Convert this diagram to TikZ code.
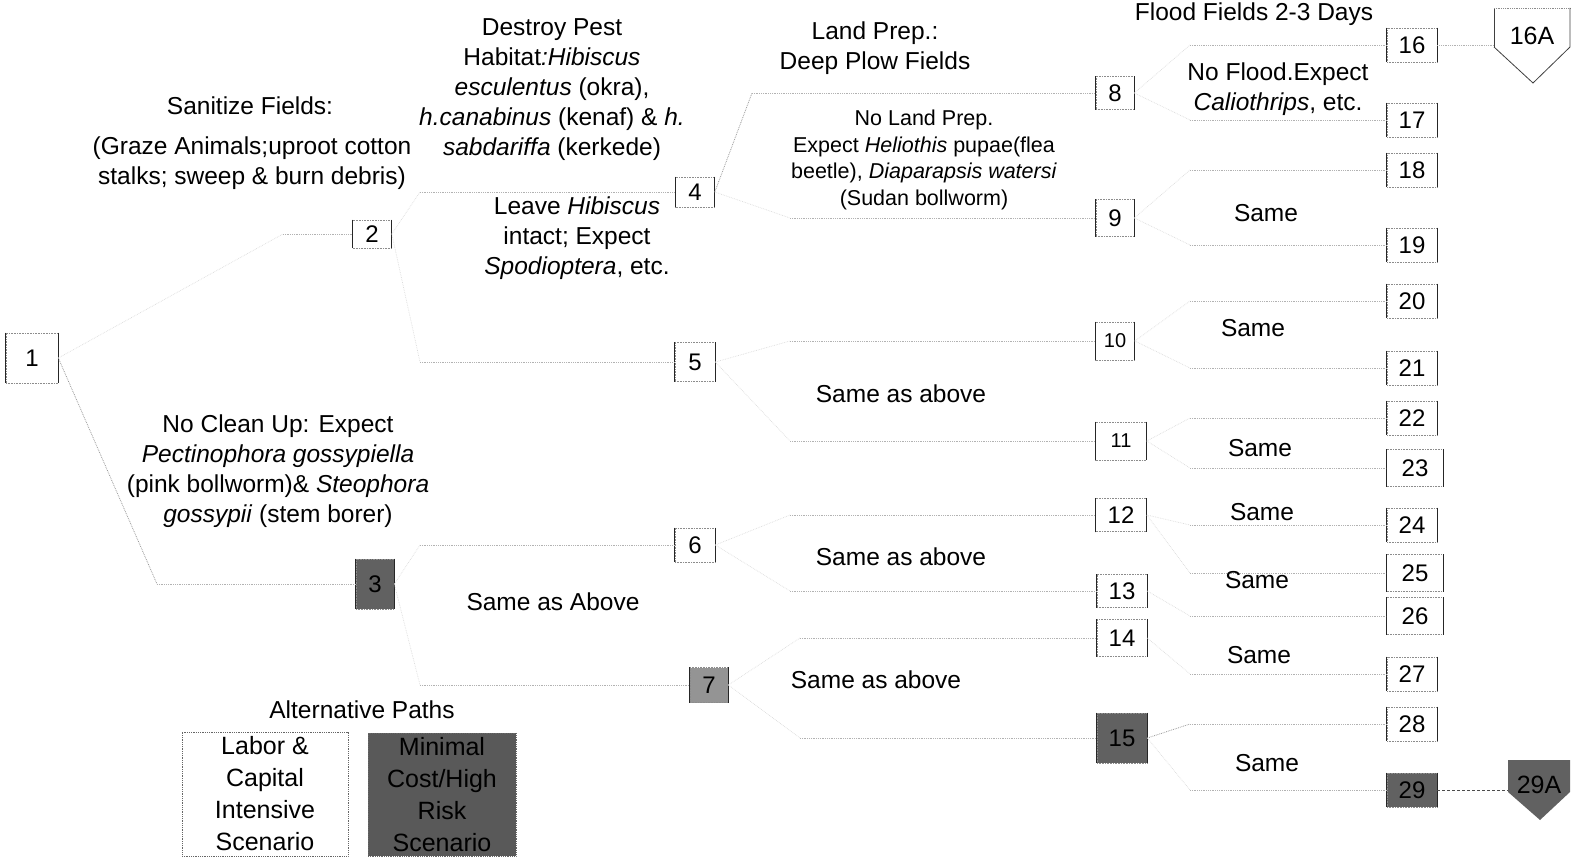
\documentclass[tikz,border=0pt]{standalone}
\usepackage{fontspec}
\setmainfont{Liberation Sans}
\usetikzlibrary{calc}
\begin{document}
\begin{tikzpicture}[x=1pt,y=-1pt,
  numbox/.style={draw=black!45, densely dotted, line width=0.6pt, inner sep=0pt,
    font=\fontsize{24}{28}\selectfont,
    append after command={(\tikzlastnode.north west) edge[draw=black!85,solid,line width=0.8pt] (\tikzlastnode.south west)
      (\tikzlastnode.north east) edge[draw=black!85,solid,line width=0.8pt] (\tikzlastnode.south east)}},
  darkbox/.style={numbox, fill=black!62},
  sz/.style 2 args={minimum width=#1, minimum height=#2},
  smallnum/.style={font=\fontsize{20}{24}\selectfont},
  lbl/.style={align=center, inner sep=0pt, font=\fontsize{24.5}{30}\selectfont},
  lblsmall/.style={align=center, inner sep=0pt, font=\fontsize{21.5}{26.7}\selectfont},
  conn/.style={draw=black!30, densely dotted, line width=0.8pt},
  diag/.style={draw=black!14, densely dotted, line width=0.7pt},
  legbox/.style={draw=black!60, densely dotted, line width=0.8pt, align=center, inner sep=0pt,
    font=\fontsize{25}{32}\selectfont}
]
\useasboundingbox (0,0) rectangle (1585,866);

% ---------- decision nodes ----------
\node[numbox, sz={52}{50}] (n1) at (32,358) {1};
\node[numbox, sz={39}{28}] (n2) at (372,234) {2};
\node[darkbox, sz={38}{50}] (n3) at (375,584) {3};
\node[numbox, sz={39}{30}] (n4) at (695,192) {4};
\node[numbox, sz={40}{39}] (n5) at (695,362) {5};
\node[numbox, sz={40}{34}] (n6) at (695,545) {6};
\node[numbox, fill=black!42, sz={38}{35}] (n7) at (709,685) {7};
\node[numbox, sz={38}{33}] (n8) at (1115,93) {8};
\node[numbox, sz={38}{37}] (n9) at (1115,218) {9};
\node[numbox, smallnum, sz={39}{38}] (n10) at (1115,341) {10};
\node[numbox, smallnum, sz={51}{38}] (n11) at (1121,441) {11};
\node[numbox, sz={51}{33}] (n12) at (1121,515) {12};
\node[numbox, sz={50}{33}] (n13) at (1122,591) {13};
\node[numbox, sz={50}{37}] (n14) at (1122,638) {14};
\node[darkbox, sz={50}{50}] (n15) at (1122,738) {15};
\node[numbox, sz={50}{34}] (n16) at (1412,45) {16};
\node[numbox, sz={50}{34}] (n17) at (1412,120) {17};
\node[numbox, sz={50}{34}] (n18) at (1412,170) {18};
\node[numbox, sz={50}{34}] (n19) at (1412,245) {19};
\node[numbox, sz={50}{34}] (n20) at (1412,301) {20};
\node[numbox, sz={50}{34}] (n21) at (1412,368) {21};
\node[numbox, sz={50}{34}] (n22) at (1412,418) {22};
\node[numbox, sz={57}{37}] (n23) at (1415,468) {23};
\node[numbox, sz={50}{34}] (n24) at (1412,525) {24};
\node[numbox, sz={57}{37}] (n25) at (1415,573) {25};
\node[numbox, sz={57}{37}] (n26) at (1415,616) {26};
\node[numbox, sz={50}{34}] (n27) at (1412,674) {27};
\node[numbox, sz={50}{34}] (n28) at (1412,724) {28};
\node[darkbox, sz={50}{34}] (n29) at (1412,790) {29};

% ---------- end (pentagon) nodes ----------
\draw[black!75, line width=0.8pt] (1494,47) -- (1494,8);
\draw[black!45, densely dotted, line width=0.8pt] (1494,8) -- (1570,8);
\draw[black!75, line width=0.8pt] (1570,8) -- (1570,47) -- (1533,83) -- (1494,47);
\node[inner sep=0pt, minimum width=76, minimum height=39, text height=35pt, text depth=0pt,
      font=\fontsize{25}{28}\selectfont] (n16A) at (1532,27.5) {16A};
\fill[black!62] (1508,760) -- (1570,760) -- (1570,792) -- (1540,820) -- (1508,792) -- cycle;
\node[inner sep=0pt, minimum width=62, minimum height=32, text height=34pt, text depth=0pt,
      font=\fontsize{25}{28}\selectfont] (n29A) at (1539,776) {29A};

% ---------- fork coordinates ----------
\coordinate (f2) at (283,234);
\coordinate (f3) at (157,584);
\coordinate (f4) at (420,192);
\coordinate (f5) at (420,362);
\coordinate (f6) at (420,545);
\coordinate (f7) at (420,685);
\coordinate (f8) at (752,93);
\coordinate (f9) at (790,218);
\coordinate (f10) at (790,341);
\coordinate (f11) at (790,441);
\coordinate (f12) at (790,515);
\coordinate (f13) at (790,591);
\coordinate (f14) at (800,638);
\coordinate (f15) at (800,738);
\coordinate (f16) at (1190,45);
\coordinate (f17) at (1190,120);
\coordinate (f18) at (1190,170);
\coordinate (f19) at (1190,245);
\coordinate (f20) at (1190,301);
\coordinate (f21) at (1190,368);
\coordinate (f22) at (1190,418);
\coordinate (f23) at (1190,468);
\coordinate (f24) at (1190,525);
\coordinate (f25) at (1190,573);
\coordinate (f26) at (1190,616);
\coordinate (f27) at (1190,674);
\coordinate (f28) at (1190,724);
\coordinate (f29) at (1190,790);

% ---------- connectors ----------
\foreach \p/\c in {1/2,2/4,2/5,3/6,3/7,4/9,5/10,5/11,6/12,6/13,7/14,7/15,
                   8/16,8/17,9/18,9/19,10/20,10/21,11/22,11/23,12/24,12/25,13/26,14/27,15/29}{
  \draw[diag] (n\p.east) -- (f\c);
  \draw[conn] (f\c) -- (n\c.west);
}
\foreach \p/\c in {1/3,4/8,15/28}{
  \draw[conn, draw=black!40] (n\p.east) -- (f\c);
  \draw[conn] (f\c) -- (n\c.west);
}
\draw[conn] (n16.east) -- (n16A.west |- n16.east);
\draw[black!70, densely dashed, line width=0.8pt] (n29.east) -- (n29A.west |- n29.east);

% ---------- branch labels ----------
\node[lbl] (t1) at (250,106) {Sanitize Fields:};
\node[lbl] (t2) at (252,163) {(Graze Animals;uproot cotton\\stalks; sweep \& burn debris)};
\node[lbl] (t3) at (552,90) {Destroy Pest\\Habitat\textit{:Hibiscus}\\\textit{esculentus} (okra),\\\textit{h.canabinus} (kenaf) \& \textit{h.}\\\textit{sabdariffa} (kerkede)};
\node[lbl] (t4) at (577,238) {Leave \textit{Hibiscus}\\intact; Expect\\\textit{Spodioptera}, etc.};
\node[lbl] (t5) at (875,48) {Land Prep.:\\Deep Plow Fields};
\node[lblsmall] (t6) at (924,160) {No Land Prep.\\Expect \textit{Heliothis} pupae(flea\\beetle), \textit{Diaparapsis watersi}\\(Sudan bollworm)};
\node[lbl] (t7) at (278,471) {No Clean Up: Expect\\\textit{Pectinophora gossypiella}\\(pink bollworm)\& \textit{Steophora}\\\textit{gossypii} (stem borer)};
\node[lbl] (t8) at (553,602) {Same as Above};
\node[lbl] (t9) at (901,394) {Same as above};
\node[lbl] (t10) at (901,557) {Same as above};
\node[lbl] (t11) at (876,680) {Same as above};
\node[lbl, anchor=base] (t12) at (1254,21) {Flood Fields 2-3 Days};
\node[lbl] (t13) at (1278,89) {No Flood.Expect\\\textit{Caliothrips}, etc.};
\node[lbl] (s1) at (1266,213) {Same};
\node[lbl] (s2) at (1253,328) {Same};
\node[lbl] (s3) at (1260,448) {Same};
\node[lbl] (s4) at (1262,512) {Same};
\node[lbl] (s5) at (1257,580) {Same};
\node[lbl] (s6) at (1259,655) {Same};
\node[lbl] (s7) at (1267,763) {Same};

% ---------- legend ----------
\node[lbl] (legT) at (362,710) {Alternative Paths};
\node[legbox, minimum width=166, minimum height=124] (legA) at (265,794) {Labor \&\\Capital\\Intensive\\Scenario};
\node[legbox, fill=black!65, minimum width=148, minimum height=123] (legB) at (442,794.5) {Minimal\\Cost/High\\Risk\\Scenario};
\end{tikzpicture}
\end{document}
